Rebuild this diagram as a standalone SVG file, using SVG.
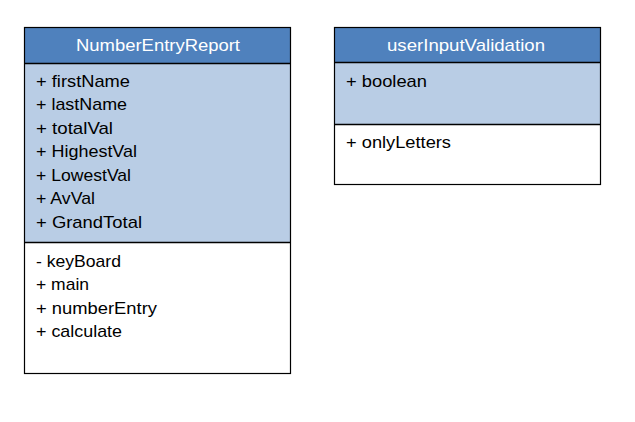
<svg xmlns="http://www.w3.org/2000/svg" width="635" height="422" viewBox="0 0 635 422">
  <style>
    .hdr { fill: #4f81bd; }
    .attr { fill: #b9cde5; }
    .ops { fill: #ffffff; }
    .frame { fill: none; stroke: #000000; stroke-width: 1.2; }
    .sep { stroke: #000000; stroke-width: 1.6; }
    .title { font-family: "Liberation Sans", Arial, sans-serif; font-size: 17px; fill: #ffffff; text-anchor: middle; }
    .item { font-family: "Liberation Sans", Arial, sans-serif; font-size: 17px; fill: #000000; }
  </style>
  <rect width="635" height="422" fill="#ffffff"/>

  <!-- class: NumberEntryReport -->
  <g id="NumberEntryReport">
    <rect class="hdr" x="24.5" y="27.5" width="266" height="36"/>
    <rect class="attr" x="24.5" y="63.5" width="266" height="179"/>
    <rect class="ops" x="24.5" y="242.5" width="266" height="131"/>
    <line class="sep" x1="24.5" y1="63.5" x2="290.5" y2="63.5"/>
    <line class="sep" x1="24.5" y1="242.5" x2="290.5" y2="242.5"/>
    <rect class="frame" x="24.5" y="27.5" width="266" height="346"/>
    <text class="title" x="158" y="51" textLength="164" lengthAdjust="spacingAndGlyphs">NumberEntryReport</text>
    <!-- attributes -->
    <text class="item" x="36" y="86.5" textLength="94" lengthAdjust="spacingAndGlyphs">+ firstName</text>
    <text class="item" x="36" y="110" textLength="91" lengthAdjust="spacingAndGlyphs">+ lastName</text>
    <text class="item" x="36" y="133.5" textLength="77" lengthAdjust="spacingAndGlyphs">+ totalVal</text>
    <text class="item" x="36" y="157" textLength="101" lengthAdjust="spacingAndGlyphs">+ HighestVal</text>
    <text class="item" x="36" y="180.5" textLength="95" lengthAdjust="spacingAndGlyphs">+ LowestVal</text>
    <text class="item" x="36" y="204" textLength="59" lengthAdjust="spacingAndGlyphs">+ AvVal</text>
    <text class="item" x="36" y="227.5" textLength="106" lengthAdjust="spacingAndGlyphs">+ GrandTotal</text>
    <!-- operations -->
    <text class="item" x="36" y="266.5" textLength="85" lengthAdjust="spacingAndGlyphs">- keyBoard</text>
    <text class="item" x="36" y="290" textLength="53" lengthAdjust="spacingAndGlyphs">+ main</text>
    <text class="item" x="36" y="313.5" textLength="121" lengthAdjust="spacingAndGlyphs">+ numberEntry</text>
    <text class="item" x="36" y="337" textLength="86" lengthAdjust="spacingAndGlyphs">+ calculate</text>
  </g>

  <!-- class: userInputValidation -->
  <g id="userInputValidation">
    <rect class="hdr" x="334.5" y="27.5" width="266" height="35"/>
    <rect class="attr" x="334.5" y="62.5" width="266" height="62"/>
    <rect class="ops" x="334.5" y="124.5" width="266" height="60"/>
    <line class="sep" x1="334.5" y1="62.5" x2="600.5" y2="62.5"/>
    <line class="sep" x1="334.5" y1="124.5" x2="600.5" y2="124.5"/>
    <rect class="frame" x="334.5" y="27.5" width="266" height="157"/>
    <text class="title" x="466" y="51" textLength="158" lengthAdjust="spacingAndGlyphs">userInputValidation</text>
    <text class="item" x="346" y="86.5" textLength="81" lengthAdjust="spacingAndGlyphs">+ boolean</text>
    <text class="item" x="346" y="148" textLength="105" lengthAdjust="spacingAndGlyphs">+ onlyLetters</text>
  </g>

  <!-- no associations between the classes -->
  <g id="connectors"></g>
</svg>
